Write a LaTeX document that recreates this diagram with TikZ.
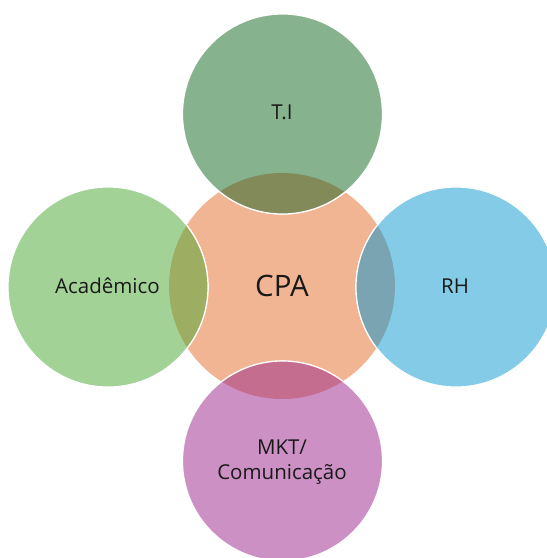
\documentclass[tikz,border=0pt]{standalone}
\usepackage{fontspec}
\setmainfont{Open Sans}
\definecolor{salmon}{HTML}{F2B594}
\definecolor{tigreen}{HTML}{87B28E}
\definecolor{tiov}{HTML}{838A5A}
\definecolor{acgreen}{HTML}{A3D297}
\definecolor{acov}{HTML}{9DAE63}
\definecolor{rhblue}{HTML}{83CBE6}
\definecolor{rhov}{HTML}{7AA4B1}
\definecolor{mkpurple}{HTML}{CC90C5}
\definecolor{mkov}{HTML}{C56D8F}
\tikzset{
  bigcirc/.style={circle, minimum size=200pt, inner sep=0pt, draw=white, line width=1.2pt},
  core/.style={circle, minimum size=226pt, inner sep=0pt, fill=salmon},
  lab/.style={anchor=base, inner sep=0pt, text=black!90, font=\fontsize{20.5}{25}\selectfont},
  biglab/.style={anchor=base, inner sep=0pt, text=black!90, font=\fontsize{29.5}{34}\selectfont}
}
\begin{document}
\begin{tikzpicture}[x=1pt,y=-1pt]
\useasboundingbox (0,0) rectangle (547,558);
\clip (0,0) rectangle (547,558);
% core
\node[core] (cpa) at (282,286) {};
% outer circles
\node[bigcirc, fill=tigreen] (ti) at (282.5,114) {};
\node[bigcirc, fill=acgreen] (ac) at (108,287) {};
\node[bigcirc, fill=rhblue] (rh) at (456,287) {};
\node[bigcirc, fill=mkpurple] (mk) at (282.5,461) {};
% overlaps
\begin{scope}
  \clip (cpa.center) circle[radius=113];
  \fill[tiov] (ti.center) circle[radius=100];
  \fill[acov] (ac.center) circle[radius=100];
  \fill[rhov] (rh.center) circle[radius=100];
  \fill[mkov] (mk.center) circle[radius=100];
  \draw[white, line width=1.2pt] (ti.center) circle[radius=100]
                                 (ac.center) circle[radius=100]
                                 (rh.center) circle[radius=100]
                                 (mk.center) circle[radius=100];
\end{scope}
% labels
\node[biglab] (tcpa) at (282,296) {CPA};
\node[lab] (tti) at (282,119) {T.I};
\node[lab] (tac) at (107.5,293.3) {Acadêmico};
\node[lab] (trh) at (455,293.3) {RH};
\node[lab] (tmk1) at (282,454.3) {MKT/};
\node[lab] (tmk2) at (282,479.3) {Comunicação};
\end{tikzpicture}
\end{document}
